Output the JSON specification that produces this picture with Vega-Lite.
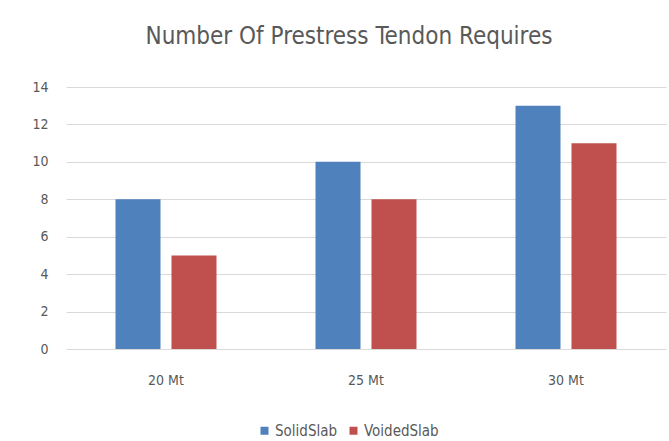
{
  "$schema": "https://vega.github.io/schema/vega-lite/v6.json",
  "autosize": "none",
  "width": 600,
  "height": 262,
  "padding": {"left": 66, "top": 87, "right": 3, "bottom": 92},
  "background": "white",
  "title": {
    "text": "Number Of Prestress Tendon Requires",
    "fontSize": 24,
    "font": "DejaVu Sans Condensed, sans-serif",
    "fontWeight": "normal",
    "color": "#595959",
    "anchor": "middle",
    "dx": -17,
    "offset": 31
  },
  "data": {
    "values": [
      {"length": "20 Mt", "slab": "SolidSlab", "tendons": 8},
      {"length": "20 Mt", "slab": "VoidedSlab", "tendons": 5},
      {"length": "25 Mt", "slab": "SolidSlab", "tendons": 10},
      {"length": "25 Mt", "slab": "VoidedSlab", "tendons": 8},
      {"length": "30 Mt", "slab": "SolidSlab", "tendons": 13},
      {"length": "30 Mt", "slab": "VoidedSlab", "tendons": 11}
    ]
  },
  "mark": {"type": "bar"},
  "encoding": {
    "x": {
      "field": "length",
      "type": "nominal",
      "sort": ["20 Mt", "25 Mt", "30 Mt"],
      "scale": {"paddingInner": 0.495, "paddingOuter": 0.2475},
      "axis": {
        "title": null,
        "labelAngle": 0,
        "ticks": false,
        "domain": false,
        "labelPadding": 24,
        "labelFontSize": 14,
        "labelFont": "DejaVu Sans Condensed, sans-serif",
        "labelColor": "#595959"
      }
    },
    "xOffset": {
      "field": "slab",
      "type": "nominal",
      "scale": {"paddingInner": 0.196, "paddingOuter": 0}
    },
    "y": {
      "field": "tendons",
      "type": "quantitative",
      "scale": {"domain": [0, 14], "nice": false},
      "axis": {
        "title": null,
        "values": [0, 2, 4, 6, 8, 10, 12, 14],
        "ticks": false,
        "domain": false,
        "grid": true,
        "gridColor": "#d9d9d9",
        "labelPadding": 18,
        "labelFontSize": 14,
        "labelFont": "DejaVu Sans Condensed, sans-serif",
        "labelColor": "#595959"
      }
    },
    "color": {
      "field": "slab",
      "type": "nominal",
      "scale": {"domain": ["SolidSlab", "VoidedSlab"], "range": ["#4f81bd", "#c0504d"]},
      "legend": {
        "title": null,
        "orient": "none",
        "direction": "horizontal",
        "legendX": 191,
        "legendY": 336,
        "symbolType": "square",
        "symbolSize": 64,
        "symbolStrokeWidth": 0,
        "labelFontSize": 15,
        "labelFont": "DejaVu Sans Condensed, sans-serif",
        "labelColor": "#595959",
        "labelOffset": 3,
        "columnPadding": 8
      }
    }
  },
  "config": {"view": {"stroke": null}}
}
